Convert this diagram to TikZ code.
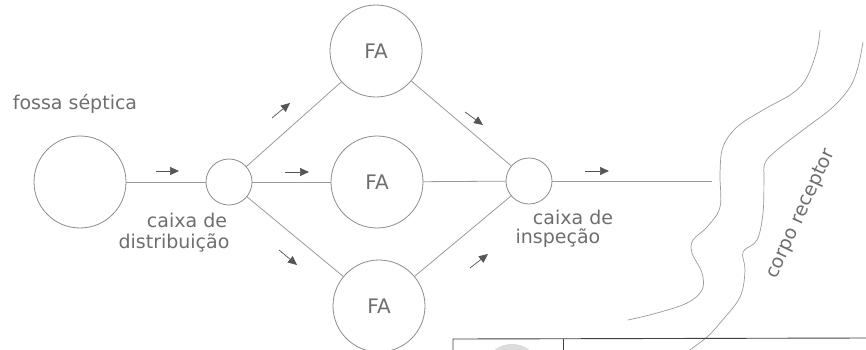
\documentclass[tikz,border=0pt]{standalone}
\usepackage{fontspec}
\setmainfont{DejaVu Sans}
\usetikzlibrary{arrows.meta}
\definecolor{linegray}{HTML}{9A9A9A}
\definecolor{circgray}{HTML}{8C8C8C}
\definecolor{textgray}{HTML}{6E6E6E}
\definecolor{arrowgray}{HTML}{555555}
\tikzset{
  tank/.style={circle, draw=circgray, line width=0.8pt, inner sep=0pt, outer sep=0pt, text=textgray, font=\fontsize{20}{22}\selectfont},
  bigtank/.style={tank, minimum size=92pt},
  smalltank/.style={tank, minimum size=46pt},
  pipe/.style={draw=linegray, line width=0.8pt},
  flow/.style={draw=arrowgray, line width=0.7pt, -{Triangle[length=9pt,width=8pt]}, arrowgray},
  lbl/.style={text=textgray, font=\fontsize{19}{21}\selectfont, inner sep=0pt},
  bank/.style={draw=linegray, line width=0.7pt},
  tableline/.style={draw=black!75, line width=0.9pt}
}
\begin{document}
\begin{tikzpicture}[x=1pt,y=-1pt]
\useasboundingbox (0,0) rectangle (866,349);
\clip (0,0) rectangle (866,349);
% tanks
\node[bigtank] (fossa) at (80,182) {};
\node[smalltank] (dist) at (229,182) {};
\node[bigtank] (fa1) at (376,51) {FA};
\node[bigtank] (fa2) at (377,182) {FA};
\node[bigtank] (fa3) at (379,306) {FA};
\node[smalltank] (insp) at (529,181) {};
\coordinate (out) at (712,181);
% pipes
\draw[pipe] (fossa) -- (dist);
\draw[pipe] (dist) -- (fa1);
\draw[pipe] (dist) -- (fa2);
\draw[pipe] (dist) -- (fa3);
\draw[pipe] (fa1) -- (insp);
\draw[pipe] (fa2) -- (insp);
\draw[pipe] (fa3) -- (insp);
\draw[pipe] (insp) -- (out);
% flow arrows
\draw[flow] (156,171) -- (179,171);
\draw[flow] (272,118) -- (290,103);
\draw[flow] (285,172) -- (309,172);
\draw[flow] (279,250) -- (297,265);
\draw[flow] (465,112) -- (483,125);
\draw[flow] (470,268) -- (488,254);
\draw[flow] (585,171) -- (609,171);
% labels
\node[lbl] (lfossa) at (75,104) {fossa séptica};
\node[lbl] (ld1) at (187,220) {caixa de};
\node[lbl] (ld2) at (174,243) {distribuição};
\node[lbl] (li1) at (573,217) {caixa de};
\node[lbl] (li2) at (558,238) {inspeção};
\node[lbl, rotate=65.5] (lrio) at (801,214) {corpo receptor};
% river banks
\draw[bank] plot[smooth, tension=0.6] coordinates {(820,30) (817,50) (807,77) (793,93) (763,110) (737,127) (723,147) (720,173) (720,207) (707,227) (693,240) (692,253) (702,273) (702,290) (687,303) (657,313) (628,320)};
\draw[bank] plot[smooth, tension=0.6] coordinates {(863,42) (858,67) (850,87) (833,107) (807,127) (777,150) (765,163) (764,180) (763,213) (757,240) (743,252) (745,270) (740,297) (720,323) (707,337) (687,352)};
% table fragment
\draw[tableline] (453,351) -- (453,339) -- (866,338);
\draw[tableline] (563,339) -- (563,351);
\fill[gray!28] (512,358) ellipse [x radius=21pt, y radius=14pt];
\end{tikzpicture}
\end{document}
